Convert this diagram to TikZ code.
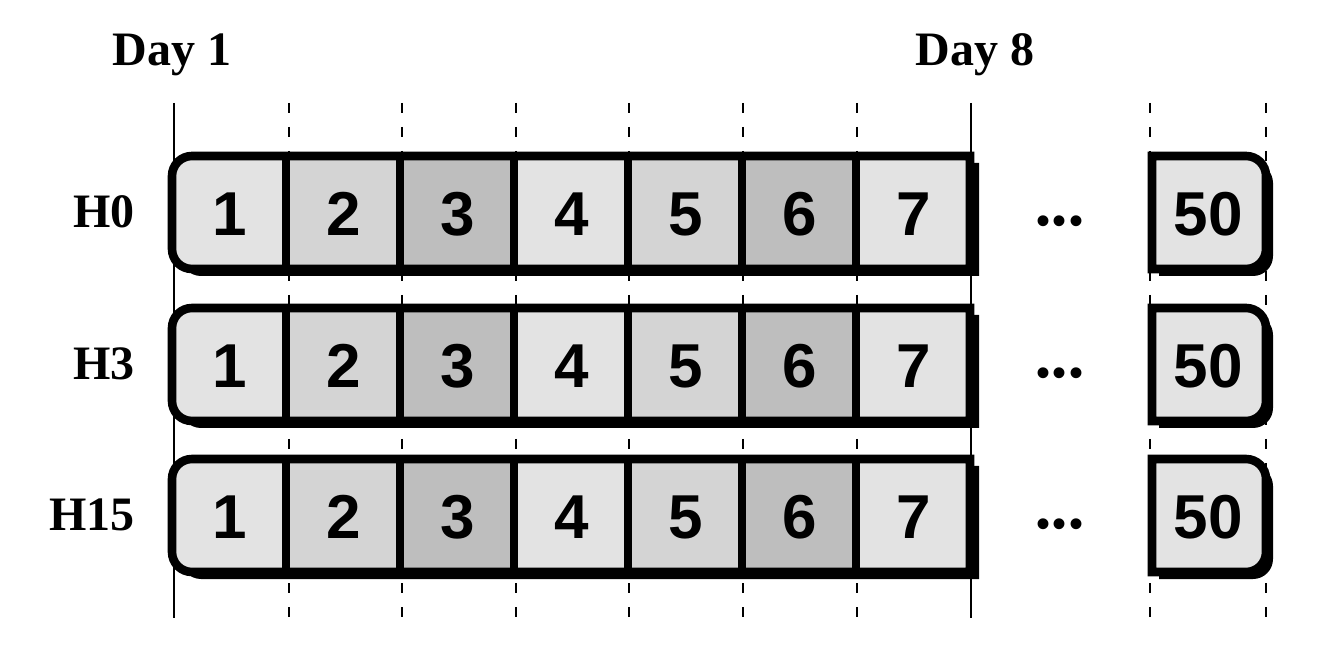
\documentclass[tikz,border=0pt]{standalone}
\usepackage{fontspec}
\setmainfont{Liberation Serif}
\newfontfamily\numfont{Liberation Sans}
\definecolor{cellA}{HTML}{E3E3E3}
\definecolor{cellB}{HTML}{D4D4D4}
\definecolor{cellC}{HTML}{BEBEBE}
\begin{document}
\begin{tikzpicture}[x=0.5pt, y=-0.5pt,
    num/.style={font=\numfont\bfseries\fontsize{31}{31}\selectfont},
    dotsnum/.style={font=\numfont\fontsize{20}{20}\selectfont, inner sep=0},
    lbl/.style={font=\bfseries\fontsize{24}{24}\selectfont, inner sep=0},
    guide/.style={line width=1.2pt},
    guidedash/.style={line width=1.2pt, dash pattern=on 5pt off 7pt},
    frame/.style={line width=4.3pt}]
    \useasboundingbox (0,0) rectangle (1336,672);
    % day grid
    \foreach \x in {289,402,516,629,743,857,1150,1266}
        \draw[guidedash] (\x,103) -- (\x,618);
    \foreach \x in {174,971}
        \draw[guide] (\x,103) -- (\x,618);
    \node[lbl] (day1) at (172,55) {Day 1};
    \node[lbl] (day8) at (975,55) {Day 8};
    % one bar per hour
    \foreach \r/\y in {0/212,3/364,15/515} {
        \node[lbl, anchor=east] (h\r) at (135,\y) {H\r};
        \fill[black, shift={(9,7)}] (970,\y-56) -- (192,\y-56) arc[start angle=270, end angle=180, radius=20]
            -- (172,\y+37) arc[start angle=180, end angle=90, radius=20] -- (970,\y+57) -- cycle;
        \fill[black, shift={(7,7)}] (1152,\y-56) -- (1246,\y-56) arc[start angle=270, end angle=360, radius=20]
            -- (1266,\y+37) arc[start angle=0, end angle=90, radius=20] -- (1152,\y+57) -- cycle;
        \begin{scope}
            \clip (970,\y-56) -- (192,\y-56) arc[start angle=270, end angle=180, radius=20]
                -- (172,\y+37) arc[start angle=180, end angle=90, radius=20] -- (970,\y+57) -- cycle;
            \foreach \i/\c in {1/cellA,2/cellB,3/cellC,4/cellA,5/cellB,6/cellC,7/cellA}
                \fill[\c] (58+114*\i,\y-60) rectangle (172+114*\i,\y+60);
        \end{scope}
        \draw[frame, fill=cellA] (1152,\y-56) -- (1246,\y-56) arc[start angle=270, end angle=360, radius=20]
            -- (1266,\y+37) arc[start angle=0, end angle=90, radius=20] -- (1152,\y+57) -- cycle;
        \draw[frame] (970,\y-56) -- (192,\y-56) arc[start angle=270, end angle=180, radius=20]
            -- (172,\y+37) arc[start angle=180, end angle=90, radius=20] -- (970,\y+57) -- cycle;
        \foreach \i in {1,...,6}
            \draw[frame] (172+114*\i,\y-56) -- (172+114*\i,\y+57);
        \foreach \i in {1,...,7}
            \node[num] (n\r-\i) at (116+114*\i,\y+2) {\i};
        \node[dotsnum] (dots\r) at (1060,\y+13) {•\kern1.2pt•\kern1.2pt•};
        \node[num] (n\r-50) at (1208,\y+2) {50};
    }
\end{tikzpicture}
\end{document}
